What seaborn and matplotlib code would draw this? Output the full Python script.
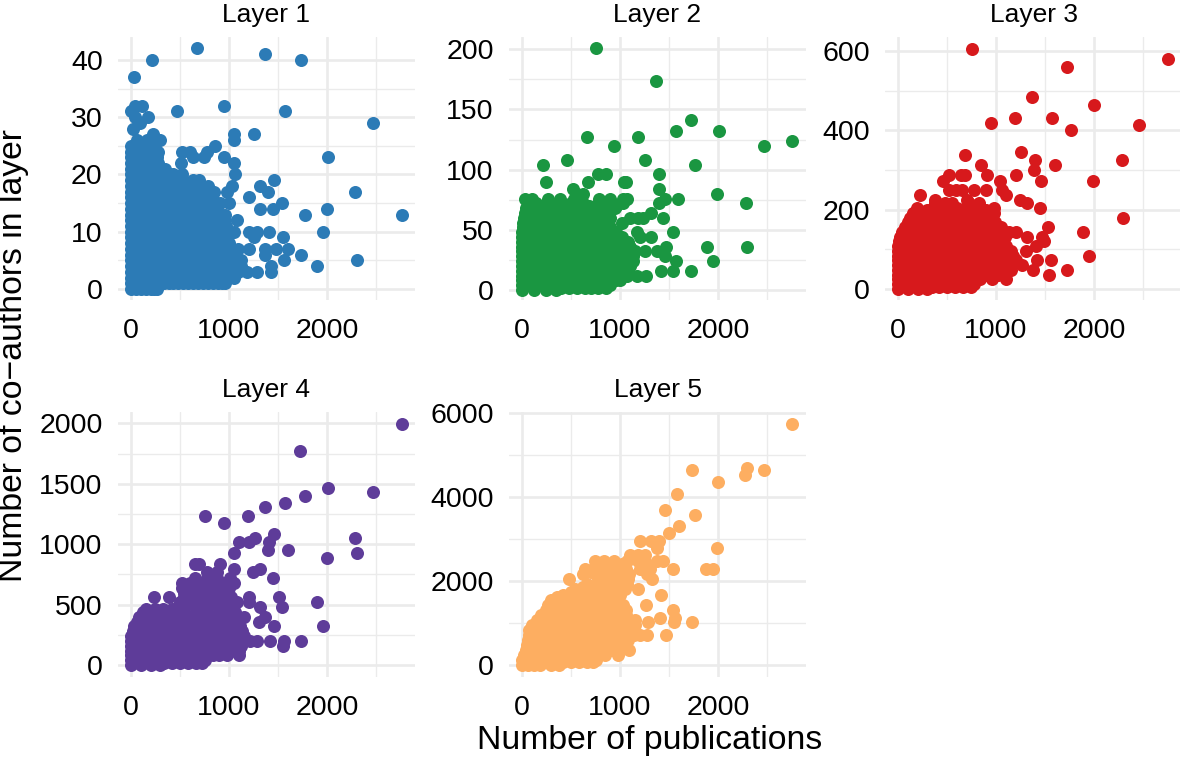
import pandas as pd
import matplotlib.pyplot as plt
import seaborn as sns

# --------------------------------
# DATA (co-authors: publications)
# --------------------------------

layer1_rows = {
    0: [0, 50, 100, 150, 200, 235, 270],
    1: [0, 33, 83, 133, 183, 233, 283, 333, 383, 433, 483, 533, 583, 633, 683, 733, 783, 833, 883, 933, 960],
    2: [0, 66, 166, 266, 366, 466, 566, 666, 766, 866, 966, 1047],
    3: [0, 100, 200, 300, 400, 500, 600, 700, 800, 900, 1000, 1090, 1184, 1286, 1429],
    4: [0, 33, 133, 233, 333, 433, 533, 633, 733, 833, 933, 1033, 1120, 1429, 1893],
    5: [0, 66, 166, 266, 366, 466, 566, 666, 766, 866, 966, 1066, 1120, 1559, 2302],
    6: [0, 100, 200, 300, 400, 500, 600, 700, 800, 900, 1000, 1050, 1371, 1733],
    7: [0, 33, 133, 233, 333, 433, 533, 633, 733, 833, 933, 1033, 1088, 1201, 1371, 1484, 1603],
    8: [0, 66, 166, 266, 366, 466, 566, 666, 766, 866, 966, 1000],
    9: [0, 100, 200, 300, 400, 500, 600, 700, 800, 900, 975, 1259, 1549],
    10: [0, 33, 133, 233, 333, 433, 533, 633, 733, 833, 933, 1047, 1201, 1286, 1409, 1959],
    11: [0, 66, 166, 266, 366, 466, 566, 666, 766, 866, 966],
    12: [0, 100, 200, 300, 400, 500, 600, 700, 800, 900, 960, 1081],
    13: [0, 33, 133, 233, 333, 433, 533, 633, 733, 833, 933, 960, 1773, 2762],
    14: [0, 66, 166, 266, 366, 466, 566, 666, 766, 866, 1320, 1450, 1996],
    15: [0, 100, 200, 300, 400, 500, 600, 700, 780, 911, 996, 1542],
    16: [0, 33, 133, 233, 333, 433, 533, 633, 733, 830, 1201],
    17: [0, 66, 166, 266, 366, 466, 566, 666, 766, 842, 979, 1399, 2285],
    18: [0, 100, 200, 300, 400, 500, 600, 700, 790, 1030, 1320],
    19: [0, 33, 133, 233, 333, 433, 533, 633, 689, 1464],
    20: [0, 66, 166, 266, 366, 430, 519, 1061],
    21: [0, 100, 200, 300, 350],
    22: [0, 33, 133, 233, 280, 512, 1054],
    23: [0, 66, 166, 266, 631, 747, 945, 2013],
    24: [0, 100, 200, 280, 519, 604, 775],
    25: [0, 33, 133, 233, 860],
    26: [66, 166, 222, 297, 1047],
    27: [222, 1047, 1259],
    28: [17],
    29: [92, 2467],
    30: [41, 177],
    31: [0, 467, 1576],
    32: [41, 116, 952],
    37: [34],
    40: [218, 1730],
    41: [1371],
    42: [675],
}

layer2_rows = {
    0: [0, 120, 240, 350],
    2: [400, 480, 560, 640, 700, 780, 860],
    4: [0, 60, 180, 300, 420, 540, 660, 780, 900],
    8: [0, 120, 240, 360, 480, 600, 720, 840, 960, 1000],
    12: [0, 60, 180, 300, 420, 540, 660, 780, 900, 1020, 1070, 1170, 1265],
    16: [0, 120, 240, 360, 480, 600, 720, 840, 960, 1080, 1418, 1545, 1725],
    20: [0, 60, 180, 300, 420, 540, 660, 780, 900, 1020, 1100],
    24: [0, 120, 240, 360, 480, 600, 720, 840, 960, 1080, 1130, 1572, 1947],
    28: [0, 60, 180, 300, 420, 540, 660, 780, 900, 1020, 1135, 1460],
    32: [0, 120, 240, 360, 480, 600, 720, 840, 960, 1080, 1150, 1255, 1374],
    36: [0, 60, 180, 300, 420, 540, 660, 780, 900, 1020, 1100, 1466, 1886, 2295],
    40: [0, 120, 240, 360, 480, 600, 720, 840, 960, 1080],
    44: [0, 60, 180, 300, 420, 540, 660, 780, 900, 1020, 1204, 1316],
    48: [0, 120, 240, 360, 480, 600, 720, 840, 960, 1170, 1538],
    52: [10, 60, 180, 300, 420, 540, 660, 780, 900],
    56: [10, 120, 240, 360, 480, 600, 720, 840, 1016],
    60: [20, 60, 180, 300, 420, 540, 660, 780, 900, 1101, 1186, 1238, 1442],
    64: [30, 120, 240, 360, 480, 600, 720, 840, 1313],
    68: [40, 60, 180, 300, 420, 540, 660, 780, 950],
    70: [90, 200, 330, 440, 560, 680, 750, 840, 960],
    72: [140, 270, 380, 500, 620, 790, 900, 1030, 1395, 2281],
    76: [27, 100, 266, 385, 530, 788, 897, 1033, 1074, 1459, 1596],
    80: [560, 624, 1988],
    84: [522, 1395],
    90: [246, 675, 1040, 1060],
    96: [777, 856, 1401],
    104: [211, 1766],
    108: [464, 1255],
    120: [941, 2465],
    124: [2759],
    127: [668, 1187],
    132: [1572, 2008],
    141: [1725],
    174: [1367],
    201: [750],
}

layer3_rows = {
    0: [0, 100, 200, 300],
    6: [350, 420, 500, 580, 660, 740],
    12: [0, 60, 180, 300, 420, 540, 660, 780],
    24: [0, 120, 240, 360, 480, 600, 720, 840, 962, 1098],
    36: [0, 60, 180, 300, 420, 540, 660, 780, 900, 1020, 1080, 1541],
    48: [0, 120, 240, 360, 480, 600, 720, 840, 960, 1080, 1149, 1381, 1722],
    60: [0, 60, 180, 300, 420, 540, 660, 780, 900, 1020, 1140, 1269],
    72: [0, 120, 240, 360, 480, 600, 720, 840, 960, 1080, 1200, 1422, 1558],
    84: [0, 60, 180, 300, 420, 540, 660, 780, 900, 1020, 1140, 1170, 1951],
    96: [0, 120, 240, 360, 480, 600, 720, 840, 960, 1080, 1149, 1303],
    108: [0, 60, 180, 300, 420, 540, 660, 780, 900, 1020, 1100, 1405],
    120: [10, 120, 240, 360, 480, 600, 720, 840, 960, 1050, 1490],
    132: [20, 60, 180, 300, 420, 540, 660, 780, 900, 1020, 1090, 1320, 1466],
    144: [40, 120, 240, 360, 480, 600, 720, 840, 960, 1080, 1132, 1200, 1886],
    156: [70, 180, 300, 420, 540, 660, 780, 900, 1020, 1054, 1528],
    168: [100, 240, 360, 480, 600, 720, 840, 960, 990],
    180: [120, 180, 300, 420, 540, 660, 780, 900, 950, 2298],
    192: [150, 240, 360, 480, 600, 720, 840, 960, 980],
    198: [200, 300, 420, 540, 660, 780, 900],
    204: [194, 360, 480, 600, 720, 840, 979, 1446],
    216: [382, 480, 552, 720, 825, 1320],
    224: [382, 706, 1241],
    237: [228, 1098],
    250: [518, 587, 655, 774, 893, 1057],
    272: [460, 1040, 1456, 1988],
    288: [518, 638, 679, 910, 1200],
    300: [1388],
    312: [849, 1599],
    324: [1401, 2281],
    338: [679],
    346: [1255],
    401: [1770],
    413: [2462],
    418: [945],
    430: [1190, 1575],
    464: [2005],
    483: [1367],
    559: [1722],
    579: [2759],
    606: [750],
}

layer4_rows = {
    0: [0, 100, 200, 300],
    20: [340, 420, 500, 580, 660, 720],
    40: [0, 60, 180, 300, 420, 540, 660, 750],
    80: [0, 120, 240, 360, 480, 600, 720, 840, 893, 979, 1098],
    120: [0, 60, 180, 300, 420, 540, 660, 780, 900, 1020, 1100],
    160: [0, 120, 240, 360, 480, 600, 720, 840, 960, 1080, 1120, 1552],
    200: [0, 60, 180, 300, 420, 540, 660, 780, 900, 1020, 1150, 1217, 1286, 1422, 1559, 1732],
    240: [0, 120, 240, 360, 480, 600, 720, 840, 960, 1080, 1150],
    280: [20, 60, 180, 300, 420, 540, 660, 780, 900, 1020, 1130],
    320: [30, 120, 240, 360, 480, 600, 720, 840, 960, 1080, 1110, 1456, 1957],
    360: [60, 180, 300, 420, 540, 660, 780, 900, 1020, 1090, 1303],
    400: [80, 120, 240, 360, 480, 600, 720, 840, 960, 1080, 1149, 1371],
    440: [120, 180, 300, 420, 540, 660, 780, 900, 1020, 1060],
    460: [150, 240, 330, 420, 500],
    480: [480, 540, 660, 780, 900, 1000, 1320, 1541],
    500: [560, 640, 720, 800, 880, 960],
    520: [500, 600, 720, 840, 960, 1081, 1200, 1893],
    560: [235, 392, 540, 660, 780, 900, 1020, 1200, 1507],
    580: [600, 700, 800, 900],
    600: [540, 600, 720, 840, 950],
    620: [600, 720, 840, 960],
    640: [518, 660, 780, 900, 1000],
    660: [600, 700, 800, 900],
    680: [518, 600, 720, 840, 962, 1047],
    720: [655, 774, 877, 1013, 1449],
    770: [774, 877, 1245],
    795: [1047, 1320],
    840: [648, 689, 911],
    883: [1995],
    925: [1047, 2302],
    955: [1398, 1603],
    1015: [1098, 1200, 1405],
    1055: [1268, 2285],
    1082: [1463],
    1178: [951],
    1235: [754, 1193],
    1308: [1371],
    1344: [1575],
    1397: [1773],
    1432: [2465],
    1468: [2012],
    1772: [1729],
    1995: [2762],
}

layer5_rows = {
    0: [0, 60, 120, 180, 300, 380],
    60: [340, 420, 500, 580, 660, 720],
    120: [0, 60, 180, 300, 420, 540, 660, 750],
    240: [20, 120, 240, 360, 480, 600, 720, 850, 975],
    360: [40, 180, 300, 420, 540, 660, 780, 900, 930, 1095],
    480: [50, 120, 240, 360, 480, 600, 720, 840, 960, 1000],
    600: [60, 180, 300, 420, 540, 660, 780, 900, 1020, 1080],
    720: [70, 120, 240, 360, 480, 600, 720, 840, 960, 1080, 1140, 1204, 1272, 1470],
    840: [75, 180, 300, 420, 540, 660, 780, 900, 1020, 1120],
    960: [100, 120, 240, 360, 480, 600, 720, 840, 960, 1080, 1150],
    1020: [1289, 1552, 1732],
    1080: [150, 180, 300, 420, 540, 660, 780, 900, 1020, 1150],
    1110: [1408, 1562],
    1200: [190, 240, 360, 480, 600, 720, 840, 960, 1060],
    1320: [240, 300, 420, 540, 660, 780, 900, 1020, 1060, 1538],
    1440: [260, 360, 480, 600, 720, 840, 960, 1033, 1262],
    1560: [300, 420, 540, 660, 780, 900, 931],
    1620: [360, 480, 600, 720, 840, 960],
    1680: [420, 480, 600, 720, 840, 960, 1000, 1415],
    1740: [500, 560, 680, 780, 880],
    1800: [539, 600, 720, 840, 960, 1050, 1187],
    1860: [620, 700, 780, 860, 1000],
    1920: [660, 780, 900, 1067],
    1980: [800, 880, 960, 1040],
    2040: [481, 780, 900, 1020, 1084, 1323],
    2100: [880, 1000],
    2160: [624, 829, 960, 1090, 1272],
    2220: [700, 860, 1000, 1050],
    2280: [640, 726, 941, 1060, 1204, 1306, 1538, 1879, 1954],
    2340: [760],
    2400: [880, 960, 1020],
    2480: [743, 835, 941, 1067, 1187, 1255, 1374, 1442],
    2620: [1101, 1187, 1255],
    2790: [1381, 1988],
    2950: [1200, 1313, 1401],
    3148: [1500],
    3323: [1599],
    3578: [1770],
    3697: [1459],
    4070: [1579],
    4357: [2005],
    4524: [2278],
    4640: [1732, 2465],
    4706: [2298],
    5748: [2759],
}

layer_names = ["Layer 1", "Layer 2", "Layer 3", "Layer 4", "Layer 5"]
layer_colors = ["#2C7BB6", "#1A9641", "#D7191C", "#5E3C99", "#FDAE61"]
layer_tables = [layer1_rows, layer2_rows, layer3_rows, layer4_rows, layer5_rows]

x_major = [0, 1000, 2000]
x_minor = [500, 1500, 2500]
y_major = [
    [0, 10, 20, 30, 40],
    [0, 50, 100, 150, 200],
    [0, 200, 400, 600],
    [0, 500, 1000, 1500, 2000],
    [0, 2000, 4000, 6000],
]
y_minor = [
    [5, 15, 25, 35],
    [25, 75, 125, 175],
    [100, 300, 500],
    [250, 750, 1250, 1750],
    [1000, 3000, 5000],
]
y_limits = [(-1.92, 44.0), (-8.3, 210.2), (-27.7, 635), (-99, 2094), (-286, 6031)]

# panel edges in pixels: left, top, bottom
panel_boxes = [
    (118, 37, 300),
    (509, 37, 300),
    (885, 37, 300),
    (118, 412, 677),
    (509, 412, 677),
]
panel_width = 297

# --------------------------------
# FIGURE
# --------------------------------

sns.set_theme(style="white")
plt.rcParams["font.family"] = ["Liberation Sans", "DejaVu Sans"]

fig = plt.figure(figsize=(11.8, 7.58), dpi=100)

for i, name in enumerate(layer_names):
    left, top, bottom = panel_boxes[i]
    ax = fig.add_axes([
        left / 1180,
        1 - bottom / 758,
        panel_width / 1180,
        (bottom - top) / 758
    ])

    points = [(x, y) for y, xs in layer_tables[i].items() for x in xs]
    df = pd.DataFrame(points, columns=["publications", "coauthors"])

    sns.scatterplot(
        data=df,
        x="publications",
        y="coauthors",
        color=layer_colors[i],
        s=88,
        linewidth=0,
        alpha=1,
        zorder=3,
        ax=ax
    )

    ax.set_xlim(-133, 2898)
    ax.set_ylim(*y_limits[i])
    ax.set_xticks(x_major)
    ax.set_xticks(x_minor, minor=True)
    ax.set_yticks(y_major[i])
    ax.set_yticks(y_minor[i], minor=True)

    ax.grid(which="major", color="#EBEBEB", linewidth=1.9)
    ax.grid(which="minor", color="#EBEBEB", linewidth=1.0)
    ax.set_axisbelow(True)
    ax.tick_params(which="both", length=0)
    ax.tick_params(axis="x", labelsize=20.5, pad=13, colors="black")
    ax.tick_params(axis="y", labelsize=20.5, pad=11, colors="black")
    sns.despine(ax=ax, left=True, bottom=True)

    ax.set_xlabel("")
    ax.set_ylabel("")
    ax.set_title(name, fontsize=19, pad=11, color="black")

fig.text(650 / 1180, 1 - 740 / 758, "Number of publications",
         fontsize=24.3, ha="center", va="center", color="black")
fig.text(14 / 1180, 1 - 356 / 758, "Number of co\u2212authors in layer",
         fontsize=24.3, rotation=90, ha="center", va="center", color="black")

fig.savefig("out.png", dpi=100)
